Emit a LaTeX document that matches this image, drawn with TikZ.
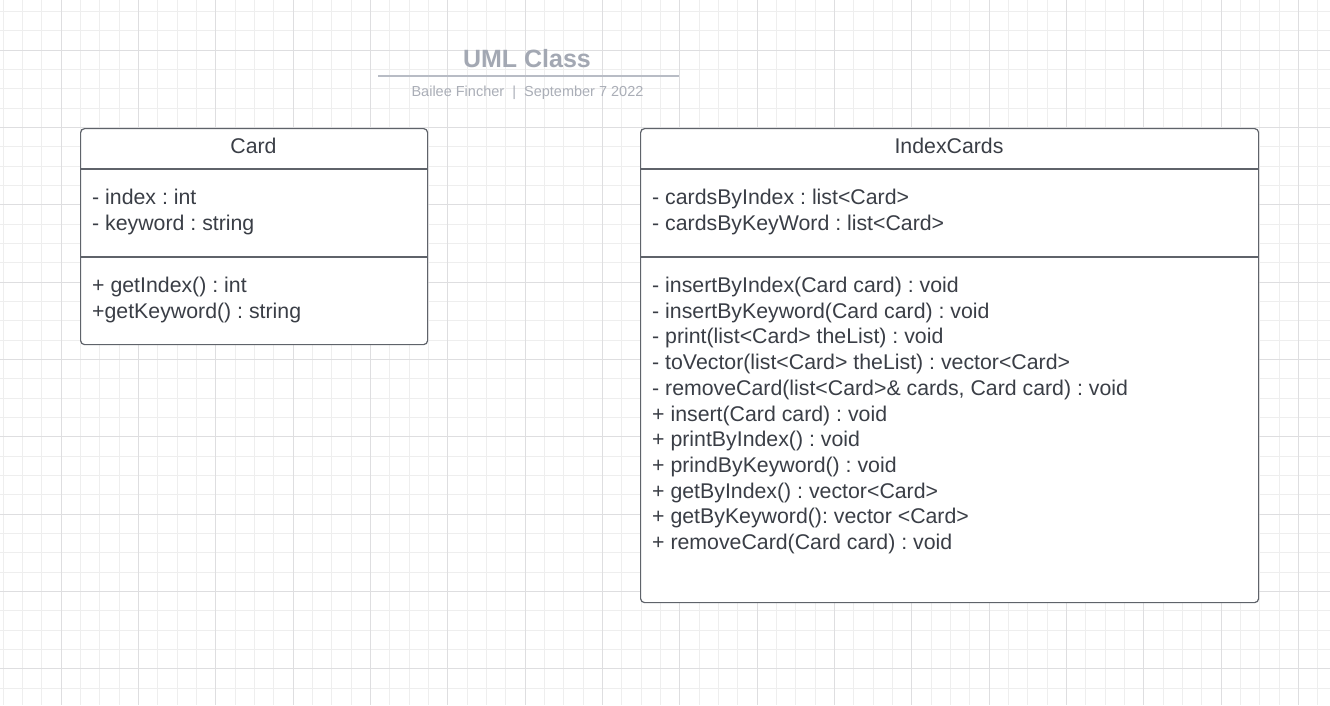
\documentclass[tikz,border=0pt]{standalone}
\usepackage{fontspec}
\setmainfont{Liberation Sans}
\frenchspacing
\definecolor{txt}{RGB}{58,62,70}
\definecolor{bord}{RGB}{95,99,106}
\definecolor{gridminor}{RGB}{238,238,238}
\definecolor{gridmajor}{RGB}{222,222,224}
\definecolor{ttl}{RGB}{163,168,179}
\definecolor{subt}{RGB}{170,174,183}
\definecolor{rule}{RGB}{184,188,197}
\tikzset{
  classbox/.style={draw=bord, line width=1.2pt, rounded corners=4pt, fill=white, anchor=north west, inner sep=0pt},
  member/.style={anchor=base west, inner sep=0pt, text=txt, font=\fontsize{21.3}{25}\selectfont},
  head/.style={anchor=base, inner sep=0pt, text=txt, font=\fontsize{21.3}{25}\selectfont},
  sepline/.style={draw=bord, line width=1.2pt},
  minorgrid/.style={draw=gridminor, line width=1pt},
  majorgrid/.style={draw=gridmajor, line width=1pt}
}
\begin{document}
\begin{tikzpicture}[x=1pt,y=-1pt]
\useasboundingbox (0,0) rectangle (1330,705);
\fill[white] (0,0) rectangle (1330,705);
\begin{scope}
\clip (0,0) rectangle (1330,705);
\foreach \i in {0,...,69} {\draw[minorgrid] ({3+\i*19.3333},0) -- ({3+\i*19.3333},705);}
\foreach \j in {0,...,36} {\draw[minorgrid] (0,{11.333+\j*19.3333}) -- (1330,{11.333+\j*19.3333});}
\foreach \i in {0,...,17} {\draw[majorgrid] ({-16.333+\i*77.3333},0) -- ({-16.333+\i*77.3333},705);}
\foreach \j in {0,...,9} {\draw[majorgrid] (0,{-27.333+\j*77.3333}) -- (1330,{-27.333+\j*77.3333});}
\end{scope}

% title
\node[anchor=base, inner sep=0pt, text=ttl, font=\bfseries\fontsize{25}{30}\selectfont] (title) at (527,67.3) {UML Class};
\coordinate (ruleL) at (378,76);
\coordinate (ruleR) at (679,76);
\draw[rule, line width=2pt] (ruleL) -- (ruleR);
\node[anchor=base, inner sep=0pt, text=subt, font=\fontsize{14.5}{17}\selectfont] (subtitle) at (527.5,96.7) {Bailee Fincher\ \ |\ \ September 7 2022};

% Card
\node[classbox, minimum width=347pt, minimum height=216pt] (card) at (80,128) {};
\draw[sepline] ([yshift=-41pt]card.north west) -- ([yshift=-41pt]card.north east);
\draw[sepline] ([yshift=-129pt]card.north west) -- ([yshift=-129pt]card.north east);
\node[head] (cardT) at (253.5,153.3) {Card};
\node[member] (c1) at (92,204.5) {- index : int};
\node[member] (c2) at (92,230.2) {- keyword : string};
\node[member] (c3) at (92,292.5) {+ getIndex() : int};
\node[member] (c4) at (92,318.2) {+getKeyword() : string};

% IndexCards
\node[classbox, minimum width=618pt, minimum height=474pt] (ic) at (640,128) {};
\draw[sepline] ([yshift=-41pt]ic.north west) -- ([yshift=-41pt]ic.north east);
\draw[sepline] ([yshift=-129pt]ic.north west) -- ([yshift=-129pt]ic.north east);
\node[head] (icT) at (949,153.3) {IndexCards};
\node[member] (i1) at (652,204.5) {- cardsByIndex : list<Card>};
\node[member] (i2) at (652,230.2) {- cardsByKeyWord : list<Card>};
\node[member] (m1) at (652,292.5) {- insertByIndex(Card card) : void};
\node[member] (m2) at (652,318.2) {- insertByKeyword(Card card) : void};
\node[member] (m3) at (652,343.9) {- print(list<Card> theList) : void};
\node[member] (m4) at (652,369.6) {- toVector(list<Card> theList) : vector<Card>};
\node[member] (m5) at (652,395.3) {- removeCard(list<Card>\& cards, Card card) : void};
\node[member] (m6) at (652,421.0) {+ insert(Card card) : void};
\node[member] (m7) at (652,446.7) {+ printByIndex() : void};
\node[member] (m8) at (652,472.4) {+ prindByKeyword() : void};
\node[member] (m9) at (652,498.1) {+ getByIndex() : vector<Card>};
\node[member] (m10) at (652,523.8) {+ getByKeyword(): vector <Card>};
\node[member] (m11) at (652,549.5) {+ removeCard(Card card) : void};
\end{tikzpicture}
\end{document}
